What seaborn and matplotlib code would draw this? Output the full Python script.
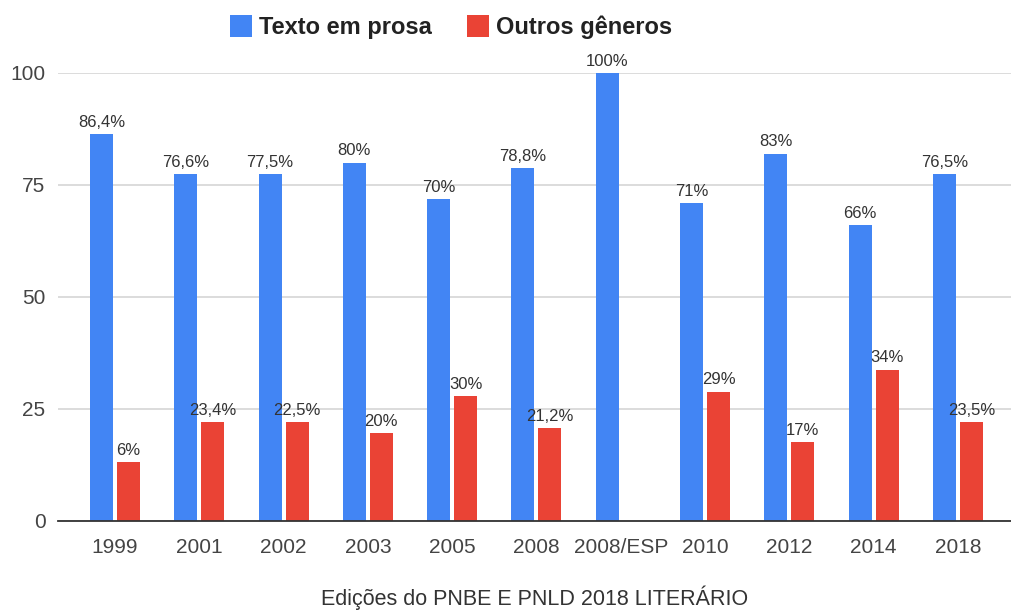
import matplotlib
matplotlib.use("Agg")
import matplotlib.pyplot as plt
import seaborn as sns
import pandas as pd
import numpy as np
from matplotlib.patches import Patch

categories = ["1999", "2001", "2002", "2003", "2005", "2008", "2008/ESP",
              "2010", "2012", "2014", "2018"]
prosa = [86.4, 77.5, 77.5, 80, 71.9, 78.7, 100, 71, 82, 66, 77.5]
outros = [13.2, 22.1, 22.1, 19.7, 27.8, 20.8, np.nan, 28.9, 17.6, 33.8, 22.1]
prosa_labels = ["86,4%", "76,6%", "77,5%", "80%", "70%", "78,8%", "100%",
                "71%", "83%", "66%", "76,5%"]
outros_labels = ["6%", "23,4%", "22,5%", "20%", "30%", "21,2%", "",
                 "29%", "17%", "34%", "23,5%"]
series = ["Texto em prosa", "Outros gêneros"]
yticks = [0, 25, 50, 75, 100]
xlabel = "Edições do PNBE E PNLD 2018 LITERÁRIO"

BLUE = "#4285F4"
RED = "#EA4335"

sns.set_theme(style="white")
plt.rcParams["font.family"] = ["Liberation Sans", "DejaVu Sans"]

df = pd.DataFrame({
    "cat": categories * 2,
    "val": prosa + outros,
    "serie": [series[0]] * len(categories) + [series[1]] * len(categories),
})

fig = plt.figure(figsize=(10.11, 6.11), dpi=100)
ax = fig.add_axes([58 / 1011, (611 - 521) / 611, 1 - 58 / 1011, (521 - 73) / 611])

sns.barplot(data=df, x="cat", y="val", hue="serie", order=categories,
            hue_order=series, palette=[BLUE, RED], width=0.64, gap=0.15,
            saturation=1, ax=ax, legend=False, linewidth=0)

ax.set_ylim(0, 100)
ax.set_xlim(-0.676, 10.63)
ax.set_yticks(yticks)
ax.set_yticklabels([str(t) for t in yticks])
ax.grid(axis="y", color="#d6d6d6", linewidth=1.2)
ax.set_axisbelow(True)
for s in ["top", "right", "left"]:
    ax.spines[s].set_visible(False)
ax.spines["bottom"].set_color("#333333")
ax.spines["bottom"].set_linewidth(1.3)
ax.tick_params(axis="both", length=0, labelsize=15, colors="#444444")
ax.tick_params(axis="y", pad=9)
ax.tick_params(axis="x", pad=12)
ax.set_xlabel(xlabel, fontsize=15.5, color="#333333", labelpad=21)
ax.set_ylabel("")

# data labels: match each bar to its category by x position
for cont, labels in zip(ax.containers, [prosa_labels, outros_labels]):
    for bar in cont:
        h = bar.get_height()
        if np.isnan(h):
            continue
        xc = bar.get_x() + bar.get_width() / 2
        idx = int(round(xc))
        lab = labels[idx]
        if lab == "":
            continue
        ax.annotate(lab, (xc, h), xytext=(0, 3), textcoords="offset points",
                    ha="center", va="bottom", fontsize=12, color="#333333",
                    annotation_clip=False)

handles = [Patch(facecolor=BLUE, edgecolor="none"), Patch(facecolor=RED, edgecolor="none")]
fig.legend(handles, series, loc="center", bbox_to_anchor=(0.446, 0.956), ncol=2,
           frameon=False, prop={"weight": "bold", "size": 17},
           handlelength=0.93, handleheight=1.05, handletextpad=0.3,
           columnspacing=1.5, labelcolor="#222222")

fig.savefig("out.png", dpi=100)
